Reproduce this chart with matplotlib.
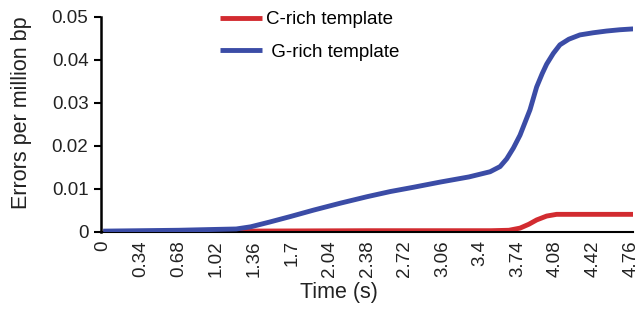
import numpy as np
import matplotlib.pyplot as plt

plt.rcParams["font.family"] = ["Liberation Sans", "DejaVu Sans"]

# G-rich template error accumulation
t_g = [0, 0.34, 0.68, 1.02, 1.2, 1.33, 1.5, 1.69, 1.9, 2.14, 2.38, 2.59, 2.8,
       3.04, 3.3, 3.49, 3.58, 3.64, 3.7, 3.76, 3.85, 3.91, 3.96, 4.0, 4.06,
       4.12, 4.2, 4.3, 4.42, 4.54, 4.66, 4.78]
err_g = [0.0002, 0.0003, 0.0004, 0.0006, 0.0007, 0.0012, 0.0023, 0.0036,
         0.0051, 0.0067, 0.0082, 0.0094, 0.0104, 0.0116, 0.0128, 0.0140,
         0.0152, 0.0170, 0.0195, 0.0225, 0.0284, 0.0337, 0.0368, 0.0390,
         0.0415, 0.0435, 0.0448, 0.0458, 0.0463, 0.0467, 0.0470, 0.0472]

# C-rich template error accumulation
t_c = [0, 1.2, 2.4, 3.5, 3.66, 3.76, 3.84, 3.91, 4.0, 4.09, 4.3, 4.78]
err_c = [0.0, 0.0002, 0.0003, 0.0003, 0.0004, 0.0009, 0.0018, 0.0028,
         0.0037, 0.0041, 0.0041, 0.0041]

xticks = np.round(np.arange(15) * 0.34, 2)
yticks = [0, 0.01, 0.02, 0.03, 0.04, 0.05]

red = "#d22b30"
blue = "#3b4ca6"
txt = "#222222"

fig = plt.figure(figsize=(6.35, 3.24), dpi=100)
ax = fig.add_axes([0.159, 0.284, 0.838, 0.664])

ax.plot(t_c, err_c, color=red, lw=3.5, label="C-rich template", zorder=2,
        solid_capstyle="butt")
ax.plot(t_g, err_g, color=blue, lw=3.5, label=" G-rich template", zorder=3,
        solid_capstyle="butt")

ax.set_xlim(-0.02, 4.78)
ax.set_ylim(0, 0.05)
ax.set_xticks(xticks)
ax.set_xticklabels(["%g" % v for v in xticks], rotation=90)
ax.set_yticks(yticks)
ax.set_yticklabels(["0", "0.01", "0.02", "0.03", "0.04", "0.05"])
ax.tick_params(axis="x", length=0, pad=6, labelsize=13.5, labelcolor=txt)
ax.tick_params(axis="y", length=5, width=1.5, direction="out", pad=4,
               labelsize=13.5, labelcolor=txt)

for side in ["top", "right"]:
    ax.spines[side].set_visible(False)
ax.spines["left"].set_linewidth(1.8)
ax.spines["bottom"].set_linewidth(1.5)
ax.spines["left"].set_zorder(1)

ax.set_xlabel("Time (s)", fontsize=15.5, color=txt)
ax.set_ylabel("Errors per million bp", fontsize=15.5, color=txt)
ax.xaxis.set_label_coords(0.447, -0.232)
ax.yaxis.set_label_coords(-0.13, 0.553)

ax.legend(loc="upper left", bbox_to_anchor=(0.346, 0.965),
          bbox_transform=fig.transFigure, frameon=False, fontsize=13.5,
          handlelength=2.25, handletextpad=0.2, labelspacing=0.81,
          borderpad=0, borderaxespad=0)

fig.savefig("out.png", dpi=100)
